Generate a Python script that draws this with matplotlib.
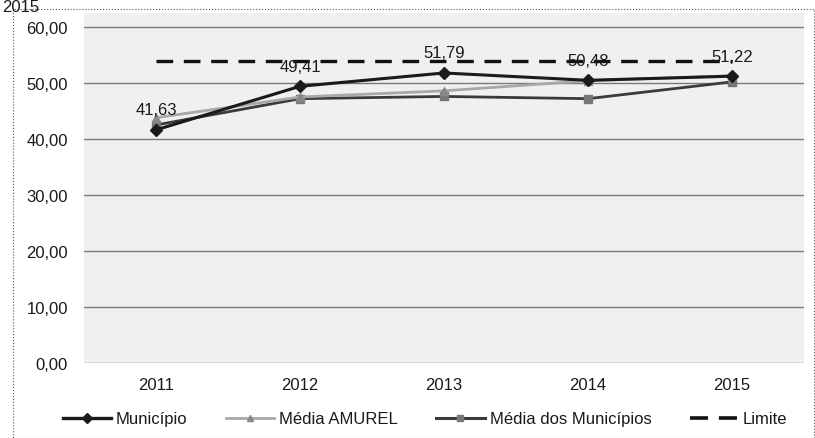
import matplotlib
matplotlib.use("Agg")
import matplotlib.pyplot as plt
from matplotlib.patches import Rectangle
from matplotlib.lines import Line2D
from matplotlib.ticker import FuncFormatter

years = ["2011", "2012", "2013", "2014", "2015"]
municipio = [41.63, 49.41, 51.79, 50.48, 51.22]
media_amurel = [43.8, 47.5, 48.6, 50.4, 51.3]
media_municipios = [42.5, 47.2, 47.6, 47.2, 50.2]
limite = [54.0, 54.0, 54.0, 54.0, 54.0]
yticks = [0, 10, 20, 30, 40, 50, 60]

plt.rcParams["font.family"] = ["Liberation Sans", "DejaVu Sans"]
FS = 12
TXT = "#1a1a1a"

W, H = 815, 439
fig = plt.figure(figsize=(W / 100, H / 100), dpi=100)
fig.patch.set_facecolor("white")

ax = fig.add_axes([84 / W, (H - 364) / H, (804 - 84) / W, (364 - 14) / H])
ax.set_facecolor("#f0f0f0")
x = list(range(len(years)))

ax.plot(x, limite, color="#111111", lw=2.4, ls=(0, (5, 3.2)), zorder=3)
ax.plot(x, media_municipios, color="#3a3a3a", lw=2.0, marker="s", ms=6,
        mfc="#777777", mec="#777777", zorder=4)
ax.plot(x, media_amurel, color="#a8a8a8", lw=2.0, marker="^", ms=6,
        mfc="#888888", mec="#888888", zorder=5)
ax.plot(x, municipio, color="#1a1a1a", lw=2.2, marker="D", ms=6,
        mfc="#1a1a1a", mec="#1a1a1a", zorder=6)

for xi, v in zip(x, municipio):
    ax.annotate(f"{v:.2f}".replace(".", ","), (xi, v), xytext=(0, 9),
                textcoords="offset points", ha="center", va="bottom",
                fontsize=FS, color=TXT, zorder=7)

ax.set_xlim(-0.5, len(years) - 0.5)
ax.set_ylim(0, 62.5)
ax.set_yticks(yticks)
ax.yaxis.set_major_formatter(FuncFormatter(lambda v, p: f"{v:.2f}".replace(".", ",")))
ax.set_xticks(x)
ax.set_xticklabels(years)
ax.tick_params(length=0, labelsize=FS, colors=TXT)
ax.tick_params(axis="y", pad=11.5)
ax.tick_params(axis="x", pad=10)
ax.grid(axis="y", color="#7a7a7a", lw=1.0)
ax.set_axisbelow(True)
for s in ax.spines.values():
    s.set_visible(False)

handles = [
    Line2D([], [], color="#1a1a1a", lw=2.4, marker="D", ms=5, mfc="#1a1a1a"),
    Line2D([], [], color="#a8a8a8", lw=2.0, marker="^", ms=5, mfc="#888888", mec="#888888"),
    Line2D([], [], color="#3a3a3a", lw=2.2, marker="s", ms=5, mfc="#777777", mec="#777777"),
    Line2D([], [], color="#111111", lw=2.6, ls=(0, (5, 3))),
]
labels = ["Município", "Média AMUREL", "Média dos Municípios", "Limite"]
fig.legend(handles, labels, loc="center", bbox_to_anchor=(425 / W, (H - 420) / H),
           ncol=4, frameon=False, fontsize=FS, handlelength=2.9,
           handletextpad=0.3, columnspacing=2.3, labelcolor=TXT)

fig.patches.append(Rectangle((13 / W, 0), (W - 14) / W, (H - 10) / H,
                             transform=fig.transFigure, fill=False,
                             ec="#555555", lw=0.8, ls=":"))
fig.text(2 / W, 1.0, "2015", fontsize=FS, ha="left", va="top", color=TXT)

fig.savefig("out.png", dpi=100)
